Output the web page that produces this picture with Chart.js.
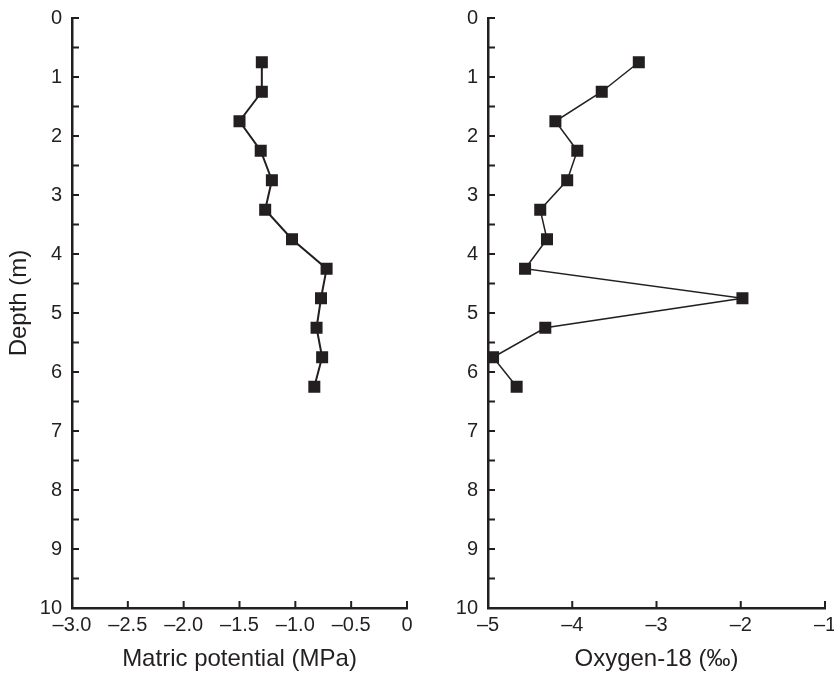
<!DOCTYPE html>
<html>
<head>
<meta charset="utf-8">
<title>Depth profiles</title>
<script src="https://cdn.jsdelivr.net/npm/chart.js@4/dist/chart.umd.min.js"></script>
<style>
  html, body { margin: 0; padding: 0; background: #fff; }
  #wrap { position: relative; width: 834px; height: 675px; overflow: hidden; }
  canvas { position: absolute; top: 0; }
  #matric { left: 0; }
  #oxygen { left: 440px; }
</style>
</head>
<body>
<div id="wrap">
  <canvas id="matric" width="440" height="675"></canvas>
  <canvas id="oxygen" width="420" height="675"></canvas>
</div>
<script>
// Sampling depths (m), shared by both profiles
const depths = [0.75, 1.25, 1.75, 2.25, 2.75, 3.25, 3.75, 4.25, 4.75, 5.25, 5.75, 6.25];
// Matric potential (MPa)
const matricValues = [-1.30, -1.30, -1.50, -1.31, -1.21, -1.27, -1.03, -0.72, -0.77, -0.81, -0.76, -0.83];
// Oxygen-18 (per mil)
const oxygenValues = [-3.21, -3.65, -4.20, -3.94, -4.06, -4.38, -4.30, -4.56, -1.98, -4.32, -4.94, -4.66];

const depthTicks = [0, 1, 2, 3, 4, 5, 6, 7, 8, 9, 10];
const matricTicks = [-3.0, -2.5, -2.0, -1.5, -1.0, -0.5, 0];
const oxygenTicks = [-5, -4, -3, -2, -1];

const INK = '#231f20';
const FONT = "'Liberation Sans', Arial, Helvetica, sans-serif";

function dash(v, digits) {
    if (v === 0) return '0';
    const s = Math.abs(v).toFixed(digits);
    return v < 0 ? '\u2013' + s : s;
}

// Short tick marks drawn inward from the axis lines
const innerTicks = {
    id: 'innerTicks',
    afterDraw(chart) {
        const { ctx, scales: { x, y } } = chart;
        ctx.save();
        ctx.strokeStyle = INK;
        ctx.lineWidth = 2;
        ctx.beginPath();
        y.ticks.forEach(t => {
            const py = y.getPixelForValue(t.value);
            ctx.moveTo(x.left, py);
            ctx.lineTo(x.left + 7, py);
        });
        x.ticks.forEach(t => {
            const px = x.getPixelForValue(t.value);
            ctx.moveTo(px, y.bottom);
            ctx.lineTo(px, y.bottom - 7);
        });
        ctx.stroke();
        ctx.restore();
    }
};

// Rotated depth title, sitting a little above the middle of the axis
const depthTitle = {
    id: 'depthTitle',
    afterDraw(chart, args, opts) {
        if (!opts.text) return;
        const { ctx, scales: { y } } = chart;
        ctx.save();
        ctx.fillStyle = INK;
        ctx.font = `24px ${FONT}`;
        ctx.textAlign = 'center';
        ctx.textBaseline = 'middle';
        ctx.translate(19, (y.top + y.bottom) / 2 - 10);
        ctx.rotate(-Math.PI / 2);
        ctx.fillText(opts.text, 0, 0);
        ctx.restore();
    }
};

function buildChart(canvasId, values, xTicks, xDigits, xTitle, opts) {
    const ctx = document.getElementById(canvasId).getContext('2d');
    return new Chart(ctx, {
        type: 'scatter',
        data: {
            datasets: [{
                data: values.map((v, i) => ({ x: v, y: depths[i] })),
                showLine: true,
                borderColor: INK,
                borderWidth: opts.lineWidth,
                backgroundColor: INK,
                pointStyle: 'rect',
                pointRadius: 8.5,
                pointBorderWidth: 0,
                pointBackgroundColor: INK
            }]
        },
        options: {
            responsive: false,
            animation: false,
            layout: { padding: { top: 18, right: opts.padRight, bottom: 0, left: 0 } },
            plugins: {
                legend: { display: false },
                tooltip: { enabled: false },
                depthTitle: { text: opts.yTitle }
            },
            scales: {
                x: {
                    type: 'linear',
                    min: xTicks[0],
                    max: xTicks[xTicks.length - 1],
                    afterBuildTicks: scale => { scale.ticks = xTicks.map(v => ({ value: v })); },
                    grid: { display: false, drawTicks: false },
                    border: { display: true, color: INK, width: 2.5 },
                    ticks: {
                        color: INK,
                        font: { family: FONT, size: 20 },
                        padding: 5,
                        maxRotation: 0,
                        autoSkip: false,
                        callback: v => dash(v, xDigits)
                    },
                    title: {
                        display: true,
                        text: xTitle,
                        color: INK,
                        font: { family: FONT, size: 24 },
                        padding: { top: 0, bottom: 1 }
                    },
                    afterFit: scale => { scale.height = 67; }
                },
                y: {
                    type: 'linear',
                    reverse: true,
                    min: 0,
                    max: 10,
                    afterBuildTicks: scale => {
                        const t = [];
                        for (let i = 0; i <= 20; i++) t.push({ value: i / 2 });
                        scale.ticks = t;
                    },
                    grid: { display: false, drawTicks: false },
                    border: { display: true, color: INK, width: 2.5 },
                    ticks: {
                        color: INK,
                        font: { family: FONT, size: 20 },
                        padding: 10,
                        autoSkip: false,
                        callback: v => depthTicks.includes(v) ? String(v) : ''
                    },
                    afterFit: scale => {
                        scale.width = opts.yWidth;
                        scale.paddingTop = 0;
                        scale.paddingBottom = 0;
                    }
                }
            }
        },
        plugins: [innerTicks, depthTitle]
    });
}

buildChart('matric', matricValues, matricTicks, 1, 'Matric potential (MPa)',
    { lineWidth: 2, padRight: 33, yWidth: 72, yTitle: 'Depth (m)' });
buildChart('oxygen', oxygenValues, oxygenTicks, 0, 'Oxygen-18 (\u2030)',
    { lineWidth: 1.5, padRight: 35, yWidth: 48, yTitle: '' });
</script>
</body>
</html>
